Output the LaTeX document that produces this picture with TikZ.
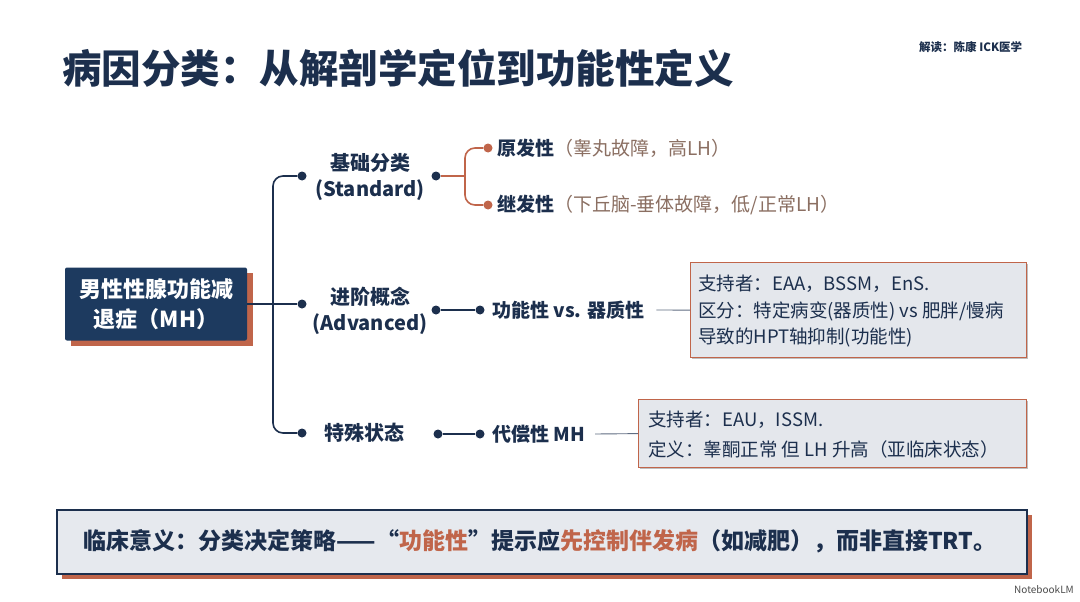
\documentclass[tikz,border=0pt]{standalone}
\usepackage{fontspec}
\setmainfont{Noto Sans CJK SC}
\definecolor{navy}{HTML}{1C2F4D}
\definecolor{boxnavy}{HTML}{1D3A5F}
\definecolor{rust}{HTML}{C0654A}
\definecolor{graytxt}{HTML}{8B6F62}
\definecolor{boxfill}{HTML}{E4E7EC}
\definecolor{lightfill}{HTML}{E6E9EE}
\tikzset{
  navyline/.style={draw=navy, line width=1.6pt},
  rustline/.style={draw=rust, line width=1.6pt},
  navydot/.style={circle, fill=navy, inner sep=0pt, minimum size=9pt},
  rustdot/.style={circle, fill=rust, inner sep=0pt, minimum size=9pt},
  lbl/.style={text=navy, font=\fontsize{20}{26}\selectfont\bfseries, align=center, inner sep=0pt},
  leaf/.style={text=navy, font=\fontsize{19}{22}\selectfont, anchor=west, inner sep=0pt},
  infobox/.style={draw=rust, line width=1.2pt, fill=boxfill, anchor=north west, inner sep=0pt},
  infotxt/.style={text=navy, font=\fontsize{18.5}{28}\selectfont, anchor=west, inner sep=0pt},
}
\begin{document}
\begin{tikzpicture}[x=1pt,y=-1pt]
\useasboundingbox[fill=white] (0,0) rectangle (1080,602);
% title
\node[anchor=west, text=navy, font=\fontsize{39.5}{44}\selectfont\bfseries, inner sep=0pt] (title) at (62,68) {病因分类：从解剖学定位到功能性定义};
\node[anchor=west, text=navy, font=\fontsize{11.5}{13}\selectfont\bfseries, inner sep=0pt] (credit) at (919,47) {解读：陈康 ICK医学};
% main box
\fill[rust] (71,273) rectangle (253,346);
\node[fill=boxnavy, minimum width=182pt, minimum height=73pt, inner sep=0pt, rounded corners=2pt, text=white, align=center, font=\fontsize{22}{30}\selectfont\bfseries] (main) at (156,304) {男性性腺功能减\\退症（MH）};
% trunk
\coordinate (J) at (273,304);
\node[navydot] (dS) at (302,176) {};
\node[navydot] (dA) at (302,304) {};
\node[navydot] (dP) at (302,433) {};
\draw[navyline] (main.east) -- (J);
\draw[navyline, rounded corners=10] (J) |- (dS);
\draw[navyline, rounded corners=10] (J) |- (dP);
\draw[navyline] (J) -- (dA);
% level 2 labels
\node[lbl] (lS) at (370,177) {基础分类\\(Standard)};
\node[lbl] (lA) at (370,311) {进阶概念\\(Advanced)};
\node[lbl] (lP) at (364,433) {特殊状态};
% standard branch
\node[navydot] (dS2) at (436,176) {};
\node[rustdot] (dPri) at (488,148) {};
\node[rustdot] (dSec) at (488,205) {};
\coordinate (K) at (465,176);
\draw[rustline] (dS2) -- (K);
\draw[rustline, rounded corners=10] (K) |- (dPri);
\draw[rustline, rounded corners=10] (K) |- (dSec);
\node[leaf] (tPri) at (497,148) {\textbf{原发性}\textcolor{graytxt}{（睾丸故障，高LH）}};
\node[leaf] (tSec) at (497,205) {\textbf{继发性}\textcolor{graytxt}{（下丘脑-垂体故障，低/正常LH）}};
% advanced branch
\node[navydot] (dA2) at (436,310) {};
\node[navydot] (dA3) at (480,310) {};
\draw[navyline] (dA2) -- (dA3);
\node[leaf, font=\fontsize{19}{22}\selectfont\bfseries] (tFun) at (492,310) {功能性 vs. 器质性};
\fill[black!25] (692,264) rectangle (1028,359);
\node[infobox, minimum width=336pt, minimum height=95pt] (boxA) at (690,262) {};
\node[infotxt] (bA1) at (698,284) {支持者：EAA，BSSM，EnS.};
\node[infotxt] (bA2) at (698,311) {区分：特定病变(器质性) vs 肥胖/慢病};
\node[infotxt] (bA3) at (698,338) {导致的HPT轴抑制(功能性)};
\draw[draw=navy!70, line width=0.9pt] ([xshift=12pt]tFun.east) -- (boxA.west);
% special branch
\node[navydot] (dP2) at (438,434) {};
\node[navydot] (dP3) at (480,434) {};
\draw[navyline] (dP2) -- (dP3);
\node[leaf, font=\fontsize{19}{22}\selectfont\bfseries] (tCom) at (492,434) {代偿性 MH};
\fill[black!25] (640,401) rectangle (1028,469);
\node[infobox, minimum width=388pt, minimum height=68pt] (boxP) at (638,399) {};
\node[infotxt] (bP1) at (648,420) {支持者：EAU，ISSM.};
\node[infotxt] (bP2) at (648,449) {定义：睾酮正常 但 LH 升高（亚临床状态）};
\draw[draw=navy!70, line width=0.9pt] ([xshift=10pt]tCom.east) -- (boxP.west);
% bottom box
\fill[rust] (62,515) rectangle (1032,579);
\node[draw=navy, line width=1.8pt, fill=lightfill, minimum width=970pt, minimum height=64pt, inner sep=0pt, anchor=north west] (bottom) at (56,509) {};
\node[text=navy, font=\fontsize{23}{26}\selectfont\bfseries, inner sep=0pt] (btxt) at (540,541) {临床意义：分类决定策略——“\textcolor{rust}{功能性}”提示应\textcolor{rust}{先控制伴发病}（如减肥），而非直接TRT。};
% footer
\node[anchor=east, text=black!70, font=\fontsize{10}{12}\selectfont, inner sep=0pt] (nlm) at (1074,590) {NotebookLM};
\end{tikzpicture}
\end{document}
